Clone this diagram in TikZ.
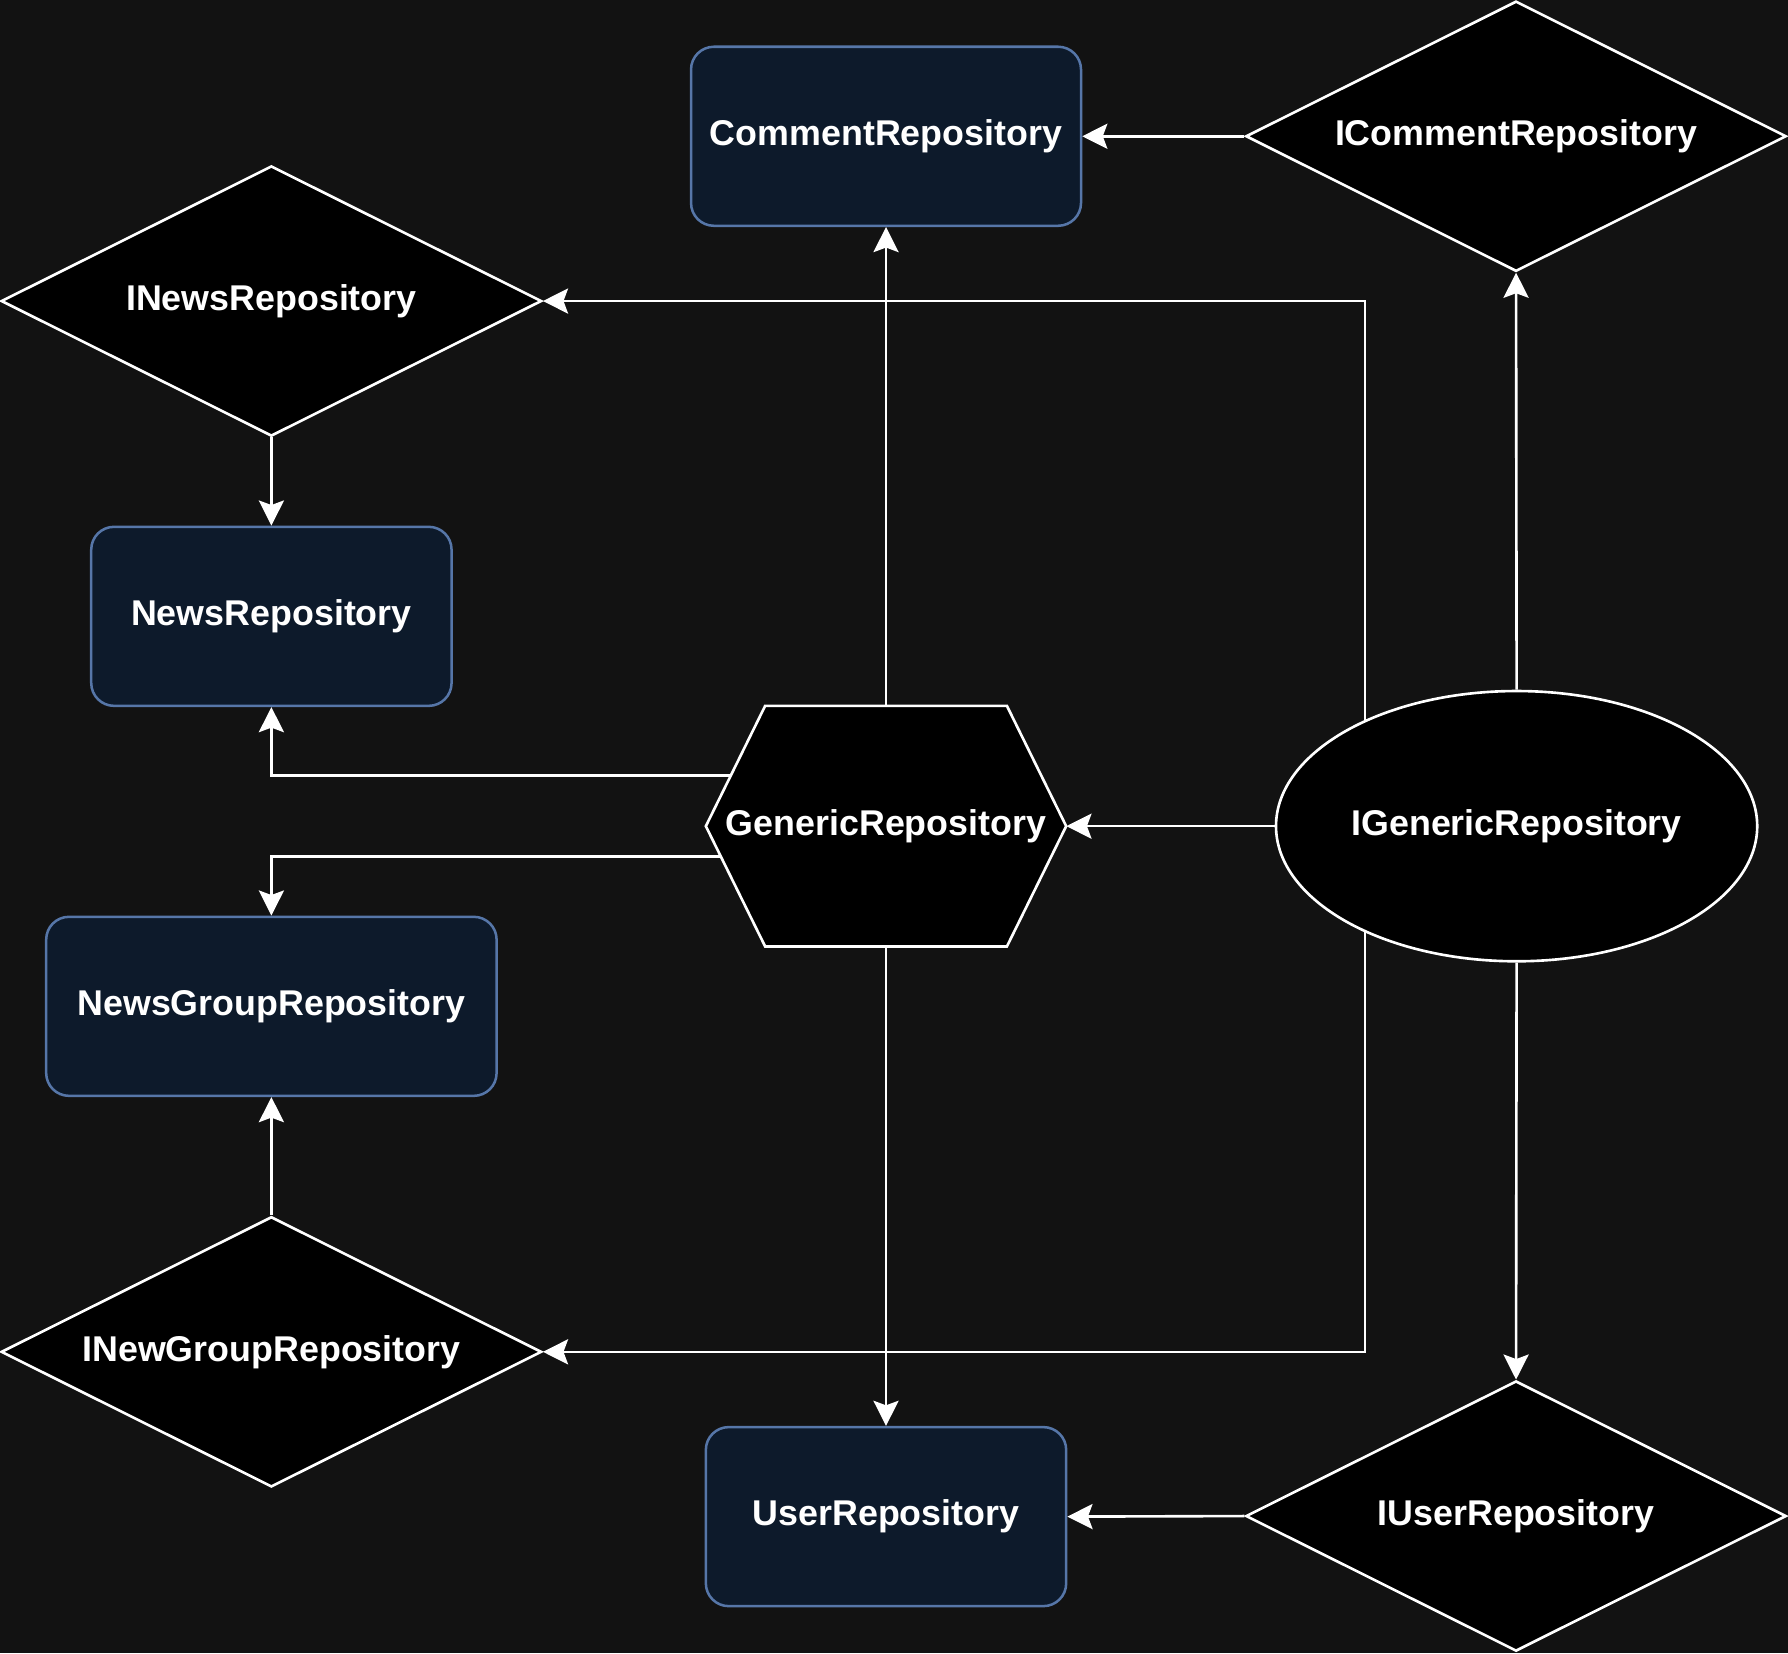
\documentclass[tikz,border=0pt]{standalone}
\usepackage{fontspec}
\setmainfont{Liberation Sans}
\usepackage{xcolor}
\usepackage{tikz}
\usetikzlibrary{shapes.geometric, arrows.meta, positioning, calc}

\definecolor{pagebg}{HTML}{121212}
\definecolor{repofill}{HTML}{0D1A2B}
\definecolor{repoline}{HTML}{5676A8}

\begin{document}
\begin{tikzpicture}[
    x=1pt, y=-1pt,
    % Concrete classes: dark blue rounded boxes
    repo/.style={
        rectangle, rounded corners=20pt, draw=repoline, fill=repofill,
        line width=2.2pt, inner sep=0pt, text=white,
        minimum height=157pt,
        font=\bfseries\fontsize{31.4pt}{37pt}\selectfont
    },
    % Interfaces: black diamonds
    iface/.style={
        diamond, aspect=2, draw=white, fill=black, line width=2.3pt, inner sep=0pt,
        text=white, minimum width=474pt, minimum height=237pt,
        font=\bfseries\fontsize{31.4pt}{37pt}\selectfont
    },
    hexline/.style={draw=white, fill=black, line width=2.3pt},
    hexbox/.style={
        rectangle, inner sep=0pt, text=white,
        minimum width=316pt, minimum height=211pt,
        font=\bfseries\fontsize{31.4pt}{37pt}\selectfont
    },
    base/.style={
        ellipse, draw=white, fill=black, line width=2.3pt, inner sep=0pt,
        text=white, minimum width=422pt, minimum height=237pt,
        font=\bfseries\fontsize{31.4pt}{37pt}\selectfont
    },
    arrow/.style={-{Stealth[length=22pt, width=22pt, inset=4pt]}, line width=2.3pt, draw=white}
]
  % Page background
  \fill[pagebg] (0,0) rectangle (1568,1450);
  \useasboundingbox (0,0) rectangle (1568,1450);

  % Top Row
  \node[repo, minimum width=342pt] (comment) at (777,119.5) {CommentRepository};
  \node[iface] (icomment) at (1329.5,119.5) {ICommentRepository};

  % Left Column
  \node[iface] (inews) at (238,264) {INewsRepository};
  \node[repo, minimum width=316pt] (news) at (238,540.5) {NewsRepository};
  \node[repo, minimum width=395pt] (newsgroup) at (238,882.5) {NewsGroupRepository};
  \node[iface] (inewgroup) at (238,1185.5) {INewGroupRepository};

  % Middle: generic base (hexagon body drawn first, text on top)
  \coordinate (genc) at (777,724.5);
  \filldraw[hexline] ([xshift=-158pt]genc) -- ++(52,-105.5) -- ++(212,0)
      -- ++(52,105.5) -- ++(-52,105.5) -- ++(-212,0) -- cycle;
  \node[hexbox] (gen) at (genc) {GenericRepository};
  \node[base] (igen) at (1330,724.5) {IGenericRepository};

  % Bottom Row
  \node[repo, minimum width=316pt] (user) at (777,1330) {UserRepository};
  \node[iface] (iuser) at (1329.5,1329.5) {IUserRepository};

  % Connecting Arrows
  \coordinate (genup) at ($(gen.west)!0.42!(gen.north west)+(22,0)$);
  \coordinate (genlow) at ($(gen.west)!0.25!(gen.south west)+(13,0)$);
  \draw[arrow] (icomment) -- (comment);
  \draw[arrow] (igen.145) |- (inews.east);
  \draw[arrow] (igen.north) -- (icomment.south);
  \draw[arrow] (inews.south) -- (news.north);
  \draw[arrow] (gen.north) -- (comment.south);
  \draw[arrow] (genup) -| (news.south);
  \draw[arrow] (genlow) -| (newsgroup.north);
  \draw[arrow] (igen.west) -- (gen.east);
  \draw[arrow] (igen.215) |- (inewgroup.east);
  \draw[arrow] (igen.south) -- (iuser.north);
  \draw[arrow] (inewgroup.north) -- (newsgroup.south);
  \draw[arrow] (gen.south) -- (user.north);
  \draw[arrow] (iuser.west) -- (user.east);

\end{tikzpicture}
\end{document}
